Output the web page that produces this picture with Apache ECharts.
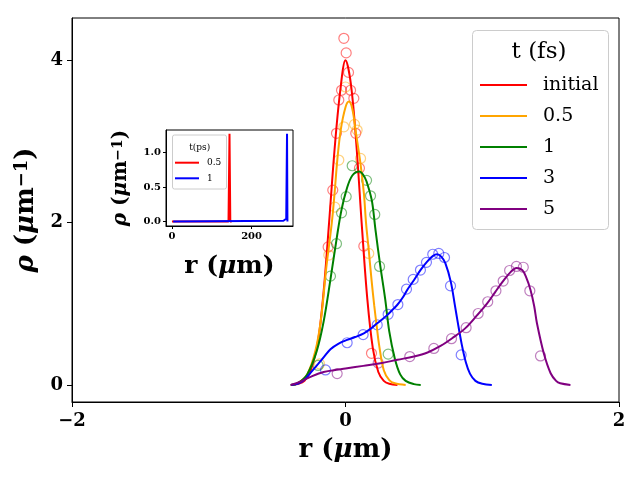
<!DOCTYPE html>
<html>
<head>
<meta charset="utf-8">
<script src="https://cdn.jsdelivr.net/npm/echarts@6/dist/echarts.min.js"></script>
<style>
html, body { margin: 0; padding: 0; background: #fff; }
#chart { width: 640px; height: 480px; }
</style>
</head>
<body>
<div id="chart"></div>
<script>
// main panel, r (um) vs rho (um^-1)
const legendNames = ['initial', '0.5', '1', '3', '5'];
const xTicks = [-2, 0, 2];
const yTicks = [0, 2, 4];

const initialLine = [[-0.40, 0], [-0.35, 0.01], [-0.30, 0.05], [-0.25, 0.2], [-0.20, 0.55], [-0.16, 1.15],
  [-0.12, 2.0], [-0.08, 2.9], [-0.04, 3.6], [0.0, 4.0], [0.04, 3.7], [0.08, 2.95], [0.12, 1.95],
  [0.16, 1.05], [0.20, 0.45], [0.24, 0.16], [0.28, 0.05], [0.32, 0.015], [0.38, 0]];
const t05Line = [[-0.40, 0], [-0.35, 0.02], [-0.28, 0.13], [-0.22, 0.42], [-0.18, 0.8], [-0.14, 1.45],
  [-0.10, 2.0], [-0.08, 2.36], [-0.06, 2.77], [-0.035, 3.14], [0.0, 3.42], [0.025, 3.49], [0.05, 3.40],
  [0.075, 3.12], [0.11, 2.72], [0.135, 2.35], [0.15, 2.0], [0.17, 1.66], [0.19, 1.3], [0.21, 0.98],
  [0.23, 0.7], [0.245, 0.5], [0.28, 0.18], [0.32, 0.06], [0.36, 0.02], [0.44, 0]];
const t1Line = [[-0.40, 0], [-0.35, 0.02], [-0.28, 0.13], [-0.21, 0.42], [-0.16, 0.78], [-0.11, 1.3],
  [-0.065, 1.8], [-0.03, 2.15], [0.01, 2.42], [0.05, 2.58], [0.10, 2.63], [0.14, 2.56], [0.17, 2.42],
  [0.195, 2.25], [0.22, 1.9], [0.255, 1.46], [0.29, 1.06], [0.32, 0.66], [0.36, 0.33], [0.40, 0.13],
  [0.44, 0.05], [0.50, 0.01], [0.55, 0]];
const t3Line = [[-0.40, 0], [-0.34, 0.02], [-0.29, 0.08], [-0.256, 0.15], [-0.20, 0.26], [-0.15, 0.36],
  [-0.11, 0.44], [-0.05, 0.51], [0.012, 0.555], [0.07, 0.59], [0.134, 0.636], [0.19, 0.70], [0.232, 0.76],
  [0.27, 0.81], [0.305, 0.86], [0.34, 0.92], [0.378, 0.985], [0.42, 1.08], [0.451, 1.17], [0.50, 1.29],
  [0.548, 1.415], [0.597, 1.52], [0.64, 1.59], [0.67, 1.61], [0.70, 1.58], [0.73, 1.50], [0.77, 1.27],
  [0.80, 0.98], [0.82, 0.78], [0.85, 0.5], [0.88, 0.28], [0.91, 0.14], [0.95, 0.05], [1.0, 0.015], [1.07, 0]];
const t5Line = [[-0.40, 0], [-0.33, 0.04], [-0.256, 0.10], [-0.16, 0.16], [-0.05, 0.19], [0.012, 0.205],
  [0.13, 0.235], [0.256, 0.267], [0.38, 0.31], [0.50, 0.35], [0.60, 0.40], [0.695, 0.48], [0.78, 0.575],
  [0.877, 0.70], [0.963, 0.86], [1.036, 1.005], [1.097, 1.15], [1.158, 1.29], [1.207, 1.39], [1.25, 1.44],
  [1.292, 1.415], [1.32, 1.33], [1.353, 1.17], [1.38, 0.97], [1.40, 0.76], [1.45, 0.39], [1.50, 0.144],
  [1.54, 0.05], [1.57, 0.02], [1.645, 0]];

// open circles (simulation samples)
const initialPts = [[-0.012, 4.27], [0.005, 4.09], [0.022, 3.85], [-0.029, 3.63], [0.037, 3.63], [-0.049, 3.51],
  [0.061, 3.53], [-0.066, 3.10], [0.075, 3.10], [-0.093, 2.40], [0.102, 2.67], [-0.127, 1.70], [0.134, 1.71],
  [0.19, 0.39]];
const t05Pts = [[0.0, 3.67], [-0.012, 3.18], [0.066, 3.21], [0.085, 3.14], [-0.049, 2.77], [0.11, 2.79],
  [-0.078, 2.19], [-0.122, 1.60], [0.17, 1.62], [-0.19, 0.26]];
const t1Pts = [[0.049, 2.70], [0.154, 2.52], [0.005, 2.32], [0.183, 2.33], [-0.029, 2.12], [0.214, 2.10],
  [-0.066, 1.74], [-0.11, 1.34], [0.249, 1.46], [0.312, 0.38], [-0.20, 0.24]];
const t3Pts = [[-0.146, 0.185], [0.012, 0.52], [0.129, 0.62], [0.232, 0.74], [0.312, 0.87], [0.383, 0.99],
  [0.446, 1.18], [0.495, 1.30], [0.548, 1.415], [0.592, 1.51], [0.638, 1.61], [0.682, 1.62], [0.724, 1.57],
  [0.768, 1.22], [0.846, 0.37]];
const t5Pts = [[-0.061, 0.14], [0.239, 0.27], [0.47, 0.35], [0.646, 0.45], [0.775, 0.57], [0.882, 0.705],
  [0.97, 0.88], [1.04, 1.025], [1.10, 1.16], [1.153, 1.28], [1.20, 1.41], [1.25, 1.46], [1.30, 1.45],
  [1.348, 1.16], [1.426, 0.357]];

// inset, t in ps
const insetNames = ['0.5', '1'];
const insetXTicks = [0, 200];
const insetYTicks = [0, 0.5, 1.0];
const inset05 = [[0, 0], [142, 0], [144.5, 1.27], [146.5, 0], [150, 0]];
const inset1 = [[3, 0], [280, 0.01], [287, 0.04], [289, 1.27], [290, 0]];

const colors = ['#ff0000', '#ffa500', '#008000', '#0000ff', '#800080'];
const insetColors = ['#ff0000', '#0000ff'];
const serif = 'DejaVu Serif';

const mainLines = [initialLine, t05Line, t1Line, t3Line, t5Line];
const mainPts = [initialPts, t05Pts, t1Pts, t3Pts, t5Pts];
const insetLines = [inset05, inset1];

const minus = v => (v < 0 ? '\u2212' + (-v) : String(v));

function nameRich(size) {
  return {
    fontFamily: serif, fontWeight: 'bold', fontSize: size, color: '#000',
    rich: {
      g: { fontFamily: serif, fontWeight: 'bold', fontStyle: 'italic', fontSize: size, color: '#000' },
      s: { fontFamily: serif, fontWeight: 'bold', fontSize: Math.round(size * 0.68), color: '#000', verticalAlign: 'top' }
    }
  };
}

function axisBase(gridIndex, min, max, ticks, labelSize, margin, tickLen, fmt) {
  return {
    gridIndex: gridIndex, type: 'value', min: min, max: max,
    axisLine: { onZero: false, lineStyle: { color: '#000', width: 1 } },
    axisTick: { length: tickLen, customValues: ticks, lineStyle: { color: '#000' } },
    axisLabel: { customValues: ticks, margin: margin, formatter: fmt, color: '#000',
      fontFamily: serif, fontWeight: 'bold', fontSize: labelSize },
    splitLine: { show: false }
  };
}

const series = [];
mainLines.forEach((d, i) => {
  series.push({
    type: 'line', name: legendNames[i], xAxisIndex: 0, yAxisIndex: 0, data: d,
    showSymbol: false, smooth: 0.35, lineStyle: { color: colors[i], width: 2 },
    itemStyle: { color: colors[i] }
  });
});
mainPts.forEach((d, i) => {
  series.push({
    type: 'scatter', name: 'pts ' + legendNames[i], xAxisIndex: 0, yAxisIndex: 0, data: d,
    symbol: 'circle', symbolSize: 10,
    itemStyle: { color: 'rgba(0,0,0,0)', borderColor: colors[i], borderWidth: 1.2, opacity: 0.5 }
  });
});
insetLines.forEach((d, i) => {
  series.push({
    type: 'line', name: 'ins ' + insetNames[i], xAxisIndex: 1, yAxisIndex: 1, data: d,
    showSymbol: false, lineStyle: { color: insetColors[i], width: 2 },
    itemStyle: { color: insetColors[i] }, z: 6
  });
});

const xMain = axisBase(0, -2, 2, xTicks, 18, 10, 5, minus);
xMain.interval = 2;
Object.assign(xMain, { name: 'r ({g|μ}m)', nameLocation: 'middle', nameGap: 35, nameTextStyle: nameRich(26) });
const yMain = axisBase(0, -0.21, 4.52, yTicks, 18, 9, 5, v => String(v));
Object.assign(yMain, { name: '{g|ρ} ({g|μ}m{s|−1})', nameLocation: 'middle', nameGap: 31, nameTextStyle: nameRich(26) });

const xIns = axisBase(1, -15, 304, insetXTicks, 10, 5, 3, v => String(v));
Object.assign(xIns, { name: 'r ({g|μ}m)', nameLocation: 'middle', nameGap: 28, nameTextStyle: nameRich(25), z: 6 });
const yIns = axisBase(1, -0.065, 1.325, insetYTicks, 10, 5, 3, v => v.toFixed(1));
Object.assign(yIns, { name: '{g|ρ} ({g|μ}m{s|−1})', nameLocation: 'middle', nameGap: 35, nameTextStyle: nameRich(20), z: 6 });

const chart = echarts.init(document.getElementById('chart'));
chart.setOption({
  animation: false,
  backgroundColor: '#fff',
  grid: [
    { left: 72, top: 18, width: 547, height: 384, show: true, borderColor: '#000', borderWidth: 1 },
    { left: 166, top: 130, width: 127, height: 96, show: true, borderColor: '#000', borderWidth: 1,
      backgroundColor: '#fff', z: 5 }
  ],
  xAxis: [xMain, xIns],
  yAxis: [yMain, yIns],
  legend: [
    { data: legendNames, orient: 'vertical', left: 480, top: 75, padding: 0, icon: 'rect',
      itemWidth: 47, itemHeight: 2, itemGap: 11, selectedMode: false,
      textStyle: { fontFamily: serif, fontSize: 19, lineHeight: 20, color: '#000', padding: [0, 0, 0, 11] } },
    { data: insetNames.map(n => 'ins ' + n), formatter: n => n.replace('ins ', ''),
      orient: 'vertical', left: 175, top: 157.7, padding: 0, icon: 'rect', z: 8,
      itemWidth: 24, itemHeight: 2, itemGap: 5.6, selectedMode: false,
      textStyle: { fontFamily: serif, fontSize: 9, lineHeight: 10, color: '#000', padding: [0, 0, 0, 3] } }
  ],
  graphic: [
    { type: 'rect', x: 472.5, y: 30.5, z: 1, shape: { width: 136, height: 199, r: 4 },
      style: { fill: 'rgba(255,255,255,0.8)', stroke: '#cccccc', lineWidth: 1 } },
    { type: 'text', x: 539, y: 52, z: 3,
      style: { text: 't (fs)', font: '23px "DejaVu Serif"', fill: '#000', align: 'center', verticalAlign: 'middle' } },
    { type: 'rect', x: 172.5, y: 135, z: 7, shape: { width: 54, height: 54, r: 2 },
      style: { fill: 'rgba(255,255,255,0.8)', stroke: '#cccccc', lineWidth: 1 } },
    { type: 'text', x: 199.7, y: 148, z: 8,
      style: { text: 't(ps)', font: '9px "DejaVu Serif"', fill: '#000', align: 'center', verticalAlign: 'middle' } }
  ],
  series: series
});
</script>
</body>
</html>
